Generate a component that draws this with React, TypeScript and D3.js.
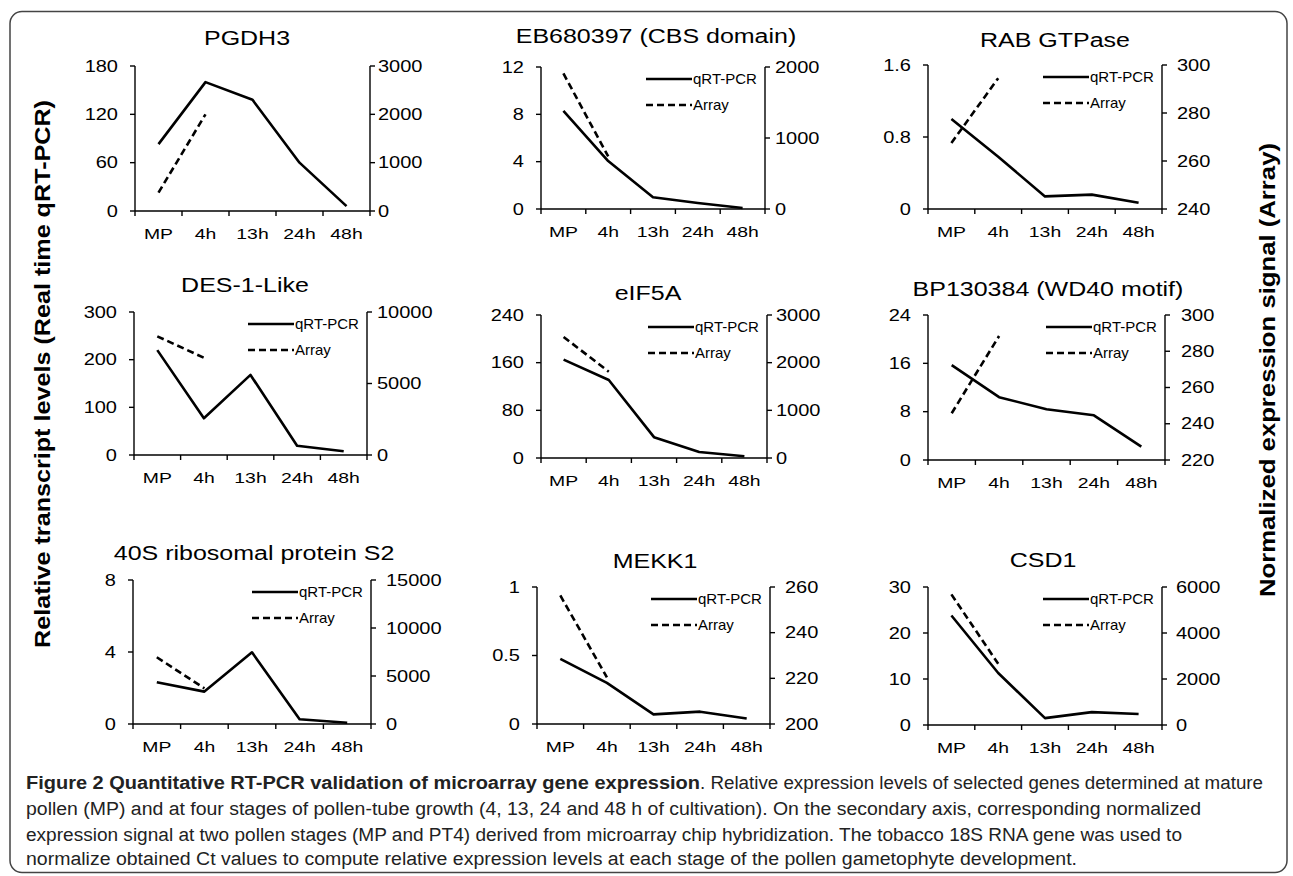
import React from "react";
import * as d3 from "d3";

// stages on the x axis; the array chip only has MP and PT4
const stages = ["MP", "4h", "13h", "24h", "48h"];
const arrayStages = ["MP", "4h"];

const geneTitles = [
  "PGDH3",
  "EB680397 (CBS domain)",
  "RAB GTPase",
  "DES-1-Like",
  "eIF5A",
  "BP130384 (WD40 motif)",
  "40S ribosomal protein S2",
  "MEKK1",
  "CSD1",
];

// qRT-PCR (left axis) and Array (right axis) values
const pgdh3Qpcr = [83, 160, 138, 60, 6];
const pgdh3Array = [380, 2000];
const eb680397Qpcr = [8.3, 4.05, 1.0, 0.5, 0.08];
const eb680397Array = [1910, 740];
const rabQpcr = [1.0, 0.58, 0.14, 0.16, 0.07];
const rabArray = [267.5, 294.5];
const des1Qpcr = [220, 77, 168, 19.5, 8];
const des1Array = [8300, 6800];
const eif5aQpcr = [165, 131, 35, 10, 3];
const eif5aArray = [2540, 1810];
const bp130384Qpcr = [15.7, 10.4, 8.4, 7.4, 2.2];
const bp130384Array = [245.8, 288.4];
const rps2Qpcr = [2.32, 1.8, 3.98, 0.26, 0.07];
const rps2Array = [6950, 3720];
const mekk1Qpcr = [0.475, 0.3, 0.07, 0.09, 0.04];
const mekk1Array = [256.3, 220.4];
const csd1Qpcr = [23.8, 11.3, 1.5, 2.8, 2.4];
const csd1Array = [5680, 2660];

// tick labels
const leftTicks = [
  [0, 60, 120, 180],
  [0, 4, 8, 12],
  [0, 0.8, 1.6],
  [0, 100, 200, 300],
  [0, 80, 160, 240],
  [0, 8, 16, 24],
  [0, 4, 8],
  [0, 0.5, 1],
  [0, 10, 20, 30],
];
const rightTicks = [
  [0, 1000, 2000, 3000],
  [0, 1000, 2000],
  [240, 260, 280, 300],
  [0, 5000, 10000],
  [0, 1000, 2000, 3000],
  [220, 240, 260, 280, 300],
  [0, 5000, 10000, 15000],
  [200, 220, 240, 260],
  [0, 2000, 4000, 6000],
];

const qpcrSeries = [pgdh3Qpcr, eb680397Qpcr, rabQpcr, des1Qpcr, eif5aQpcr, bp130384Qpcr, rps2Qpcr, mekk1Qpcr, csd1Qpcr];
const arraySeries = [pgdh3Array, eb680397Array, rabArray, des1Array, eif5aArray, bp130384Array, rps2Array, mekk1Array, csd1Array];

const legendLabels = ["qRT-PCR", "Array"];

const captionBold = "Figure 2 Quantitative RT-PCR validation of microarray gene expression";
const captionLines = [
  ". Relative expression levels of selected genes determined at mature",
  "pollen (MP) and at four stages of pollen-tube growth (4, 13, 24 and 48 h of cultivation). On the secondary axis, corresponding normalized",
  "expression signal at two pollen stages (MP and PT4) derived from microarray chip hybridization. The tobacco 18S RNA gene was used to",
  "normalize obtained Ct values to compute relative expression levels at each stage of the pollen gametophyte development.",
];

// plot boxes: l, r, t, b, title x/y, right label gap
const boxes = [
  { l: 135, r: 370, t: 66, b: 211, tx: 247, ty: 45, rg: 8 },
  { l: 541, r: 765, t: 67, b: 209, tx: 656, ty: 43, rg: 10 },
  { l: 928, r: 1162, t: 65, b: 209, tx: 1055, ty: 47, rg: 15 },
  { l: 134, r: 367, t: 312, b: 455, tx: 245, ty: 292, rg: 10 },
  { l: 541, r: 767, t: 315, b: 458, tx: 648, ty: 300, rg: 9 },
  { l: 928, r: 1165, t: 315, b: 460, tx: 1048, ty: 296, rg: 16 },
  { l: 133, r: 371, t: 580, b: 724, tx: 254, ty: 560, rg: 15 },
  { l: 537, r: 770, t: 587, b: 724, tx: 655, ty: 568, rg: 15 },
  { l: 928, r: 1162, t: 587, b: 725, tx: 1043, ty: 567, rg: 14 },
];

const FONT = "'Liberation Sans', Arial, sans-serif";
const SX = 1.25;

function SText({ x, y, anchor = "start", size = 16, sx = SX, weight = "normal", children }: any) {
  return (
    <text
      transform={`translate(${x},${y}) scale(${sx},1)`}
      textAnchor={anchor}
      fontSize={size}
      fontWeight={weight}
      fontFamily={FONT}
      fill="#000"
    >
      {children}
    </text>
  );
}

function Panel({ i }: { i: number }) {
  const box = boxes[i];
  const x = d3.scaleBand().domain(stages).range([box.l, box.r]).padding(0);
  const yL = d3.scaleLinear().domain(d3.extent(leftTicks[i]) as [number, number]).range([box.b, box.t]);
  const yR = d3.scaleLinear().domain(d3.extent(rightTicks[i]) as [number, number]).range([box.b, box.t]);
  const cx = (s: string) => (x(s) as number) + x.bandwidth() / 2;

  const qLine = d3.line<number>().x((_, k) => cx(stages[k])).y((v) => yL(v));
  const aLine = d3.line<number>().x((_, k) => cx(arrayStages[k])).y((v) => yR(v));
  const bounds = stages.map((s) => x(s) as number).concat(box.r);
  const showLegend = i !== 0;
  const legY = [box.t + 12, box.t + 38];

  return (
    <g>
      <SText x={box.tx} y={box.ty} anchor="middle" size={20}>
        {geneTitles[i]}
      </SText>

      {/* axes */}
      <g stroke="#000" strokeWidth={1.4} fill="none">
        <line x1={box.l} x2={box.l} y1={box.t} y2={box.b} />
        <line x1={box.r} x2={box.r} y1={box.t} y2={box.b} />
        <line x1={box.l} x2={box.r} y1={box.b} y2={box.b} />
        {leftTicks[i].map((v) => (
          <line key={"l" + v} x1={box.l - 5} x2={box.l} y1={yL(v)} y2={yL(v)} />
        ))}
        {rightTicks[i].map((v) => (
          <line key={"r" + v} x1={box.r} x2={box.r + 5} y1={yR(v)} y2={yR(v)} />
        ))}
        {bounds.map((bx, k) => (
          <line key={"x" + k} x1={bx} x2={bx} y1={box.b} y2={box.b + 5} />
        ))}
      </g>

      {leftTicks[i].map((v) => (
        <SText key={"lt" + v} x={box.l - 17} y={yL(v) + 5.5} anchor="end" size={16}>
          {String(v)}
        </SText>
      ))}
      {rightTicks[i].map((v) => (
        <SText key={"rt" + v} x={box.r + box.rg} y={yR(v) + 5.5} size={16}>
          {String(v)}
        </SText>
      ))}
      {stages.map((s) => (
        <SText key={"xt" + s} x={cx(s)} y={box.b + 28} anchor="middle" size={15.5}>
          {s}
        </SText>
      ))}

      {/* series */}
      <path d={qLine(qpcrSeries[i]) || ""} fill="none" stroke="#000" strokeWidth={2.6} strokeLinejoin="round" />
      <path
        d={aLine(arraySeries[i]) || ""}
        fill="none"
        stroke="#000"
        strokeWidth={2.6}
        strokeDasharray="7,4"
      />

      {showLegend && (
        <g>
          <line x1={box.r - 119} x2={box.r - 73} y1={legY[0]} y2={legY[0]} stroke="#000" strokeWidth={2.6} />
          <line
            x1={box.r - 119}
            x2={box.r - 73}
            y1={legY[1]}
            y2={legY[1]}
            stroke="#000"
            strokeWidth={2.6}
            strokeDasharray="7,4"
          />
          {legendLabels.map((t, k) => (
            <SText key={t} x={box.r - 72} y={legY[k] + 5} size={15} sx={1}>
              {t}
            </SText>
          ))}
        </g>
      )}
    </g>
  );
}

export default function App() {
  const W = 1293;
  const H = 876;
  const capFont = "'Liberation Sans', Arial, sans-serif";
  return (
    <svg width={W} height={H} style={{ position: "absolute", left: 0, top: 0, background: "#fff" }}>
      <rect x={0} y={0} width={W} height={H} fill="#fff" />
      <rect x={10} y={11.5} width={1277} height={861} rx={12} fill="none" stroke="#444" strokeWidth={1.5} />

      {geneTitles.map((_, i) => (
        <Panel key={i} i={i} />
      ))}

      <text
        transform="translate(50,374) rotate(-90)"
        textAnchor="middle"
        fontFamily={FONT}
        fontWeight="bold"
        fontSize={22}
        textLength={548}
        lengthAdjust="spacingAndGlyphs"
      >
        Relative transcript levels (Real time qRT-PCR)
      </text>
      <text
        transform="translate(1275,370) rotate(-90)"
        textAnchor="middle"
        fontFamily={FONT}
        fontWeight="bold"
        fontSize={22}
        textLength={454}
        lengthAdjust="spacingAndGlyphs"
      >
        Normalized expression signal (Array)
      </text>

      {/* caption */}
      <g fontFamily={capFont} fontSize={18} fill="#222">
        <text x={26} y={789} fontWeight="bold" textLength={674} lengthAdjust="spacingAndGlyphs">
          {captionBold}
        </text>
        <text x={700} y={789} textLength={563} lengthAdjust="spacingAndGlyphs">
          {captionLines[0]}
        </text>
        <text x={26} y={815} textLength={1175} lengthAdjust="spacingAndGlyphs">
          {captionLines[1]}
        </text>
        <text x={26} y={840.5} textLength={1156} lengthAdjust="spacingAndGlyphs">
          {captionLines[2]}
        </text>
        <text x={26} y={865} textLength={1051} lengthAdjust="spacingAndGlyphs">
          {captionLines[3]}
        </text>
      </g>
    </svg>
  );
}
